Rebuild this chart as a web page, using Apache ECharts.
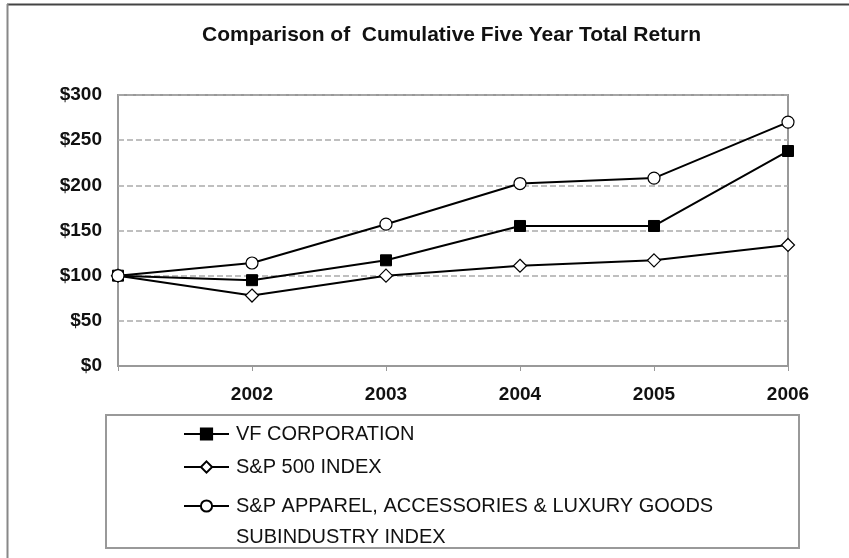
<!DOCTYPE html>
<html>
<head>
<meta charset="utf-8">
<script src="https://cdn.jsdelivr.net/npm/echarts@6/dist/echarts.min.js"></script>
<style>html,body{margin:0;padding:0;background:#fff}#c{width:849px;height:558px}</style>
</head>
<body>
<div id="c"></div>
<script>
const years = ['2001', '2002', '2003', '2004', '2005', '2006'];
const yearLabels = ['', '2002', '2003', '2004', '2005', '2006'];
const vfCorp = [100, 95, 117, 155, 155, 238];
const sp500 = [100, 78, 100, 111, 117, 134];
const apparel = [100, 114, 157, 202, 208, 270];
const seriesNames = ['VF CORPORATION', 'S&P 500 INDEX', 'S&P APPAREL, ACCESSORIES & LUXURY GOODS SUBINDUSTRY INDEX'];
const legendLabels = ['VF CORPORATION', 'S&P 500 INDEX', '\nS&P APPAREL, ACCESSORIES & LUXURY GOODS\nSUBINDUSTRY INDEX'];
const yTicks = [0, 50, 100, 150, 200, 250, 300];

const font = 'Liberation Sans, Arial, sans-serif';
const chart = echarts.init(document.getElementById('c'));

function legendFor(i, top, lh) {
  return {
    data: [seriesNames[i]], orient: 'vertical', left: 183, top: top,
    itemWidth: 45, itemHeight: 14, itemGap: 0, padding: 0,
    textStyle: { fontFamily: font, fontSize: 20, color: '#111', lineHeight: lh, padding: [0, 0, 0, 2] },
    formatter: function () { return legendLabels[i]; }
  };
}

chart.setOption({
  animation: false,
  backgroundColor: '#fff',
  title: {
    text: 'Comparison of  Cumulative Five Year Total Return',
    left: 197, top: 20,
    textStyle: { fontFamily: font, fontSize: 21, fontWeight: 'bold', color: '#111' }
  },
  legend: [
    legendFor(0, 424, 20),
    legendFor(1, 457, 20),
    legendFor(2, 459.5, 31)
  ],
  grid: {
    left: 118, right: 61, top: 95, bottom: 192,
    show: true, borderColor: '#999', borderWidth: 2, containLabel: false
  },
  xAxis: {
    type: 'category', data: years, boundaryGap: false,
    axisLine: { lineStyle: { color: '#999', width: 2 } },
    axisTick: { show: true, length: 5, lineStyle: { color: '#999', width: 1 } },
    axisLabel: {
      margin: 19, fontFamily: font, fontSize: 19, fontWeight: 'bold', color: '#111',
      formatter: function (v, i) { return yearLabels[i]; }
    },
    splitLine: { show: false }
  },
  yAxis: {
    type: 'value', min: yTicks[0], max: yTicks[yTicks.length - 1], interval: 50,
    axisLine: { show: false },
    axisTick: { show: false },
    axisLabel: {
      margin: 16, fontFamily: font, fontSize: 19, fontWeight: 'bold', color: '#111',
      formatter: function (v) { return '$' + v; }
    },
    splitLine: { show: true, lineStyle: { color: '#aaa', type: [6, 3], width: 1.5 } }
  },
  series: [
    {
      name: seriesNames[1], type: 'line', data: sp500, symbol: 'diamond', symbolSize: 13,
      lineStyle: { color: '#000', width: 2 },
      itemStyle: { color: '#fff', borderColor: '#000', borderWidth: 1.2 }, z: 3
    },
    {
      name: seriesNames[0], type: 'line', data: vfCorp, symbol: 'rect', symbolSize: 11,
      lineStyle: { color: '#000', width: 2 },
      itemStyle: { color: '#000', borderColor: '#000', borderWidth: 1 }, z: 4
    },
    {
      name: seriesNames[2], type: 'line', data: apparel, symbol: 'circle', symbolSize: 12,
      lineStyle: { color: '#000', width: 2 },
      itemStyle: { color: '#fff', borderColor: '#000', borderWidth: 1.2 }, z: 5
    }
  ],
  graphic: [
    { type: 'line', shape: { x1: 7, y1: 4.5, x2: 849, y2: 4.5 }, style: { stroke: '#444', lineWidth: 2 } },
    { type: 'line', shape: { x1: 7.5, y1: 4, x2: 7.5, y2: 558 }, style: { stroke: '#888', lineWidth: 2 } },
    { type: 'rect', shape: { x: 106, y: 415, width: 693, height: 133 }, style: { fill: 'none', stroke: '#999', lineWidth: 2 }, z: -1 }
  ]
});
</script>
</body>
</html>
